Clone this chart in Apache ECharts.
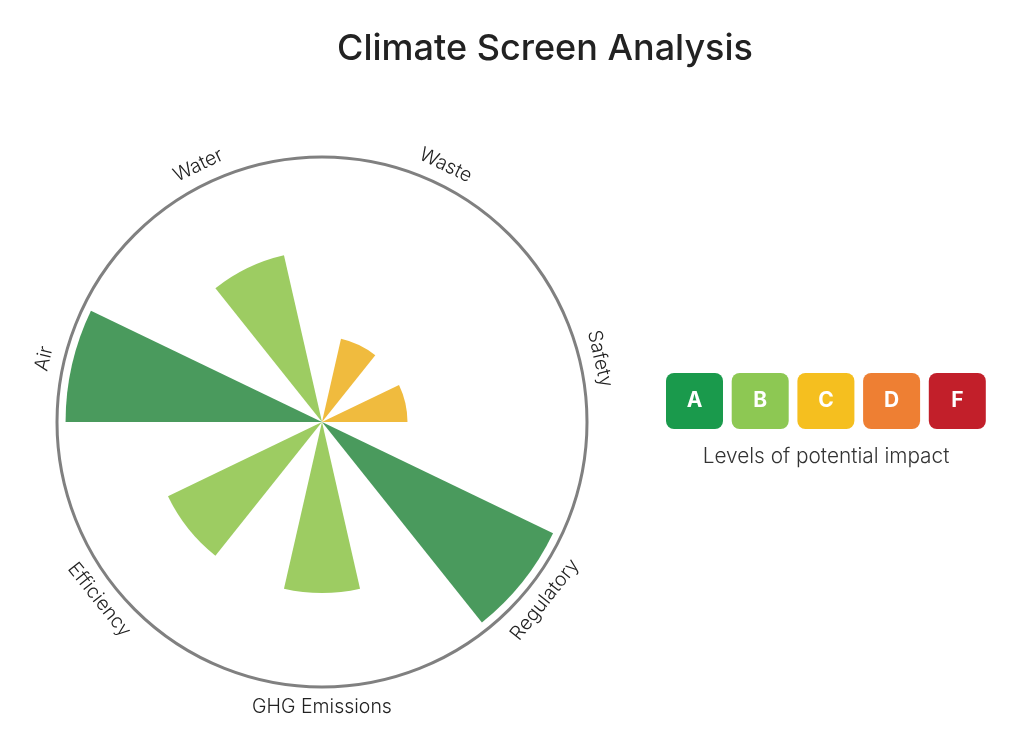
<!DOCTYPE html>
<html>
<head>
<meta charset="utf-8">
<script src="https://cdn.jsdelivr.net/npm/echarts@6/dist/echarts.min.js"></script>
<style>
html,body{margin:0;padding:0;background:#fff;}
#main{width:1022px;height:744px;}
</style>
</head>
<body>
<div id="main"></div>
<script>
// ---- data ----
var categories = ['Water', 'Waste', 'Safety', 'Regulatory', 'GHG Emissions', 'Efficiency', 'Air'];
var values = [2, 1, 1, 3, 2, 2, 3];
var levels = ['B', 'C', 'C', 'A', 'B', 'B', 'A'];
var legendLabels = ['A', 'B', 'C', 'D', 'F'];
var legendTitle = 'Levels of potential impact';

// ---- styles ----
var barColors = { A: '#4a9a5d', B: '#9dcc62', C: '#f0bb3e' };
var legendColors = ['#1a9a4c', '#8dc853', '#f5bf1f', '#ee7f33', '#c21f2a'];
var FONT = 'Inter, "Open Sans", sans-serif';
var C = [322, 422];
var R = 265;
var step = 360 / categories.length;

var chart = echarts.init(document.getElementById('main'));

var legendGraphics = legendLabels.map(function (l, i) {
  return {
    type: 'group',
    left: 666 + i * 65.7,
    top: 373,
    children: [
      { type: 'rect', shape: { x: 0, y: 0, width: 57, height: 56, r: 8 }, style: { fill: legendColors[i] } },
      { type: 'text', x: 28.5, y: 28, style: { text: l, fill: '#fff', font: 'bold 21px ' + FONT, align: 'center', verticalAlign: 'middle' } }
    ]
  };
});
legendGraphics.push({
  type: 'text', x: 826, y: 457,
  style: { text: legendTitle, fill: '#333', font: '300 20.8px ' + FONT, align: 'center', verticalAlign: 'middle' }
});

chart.setOption({
  backgroundColor: '#fff',
  animation: false,
  title: {
    text: 'Climate Screen Analysis',
    left: 540, top: 26, textAlign: 'center',
    textStyle: { fontFamily: FONT, fontSize: 36, fontWeight: 500, color: '#222' }
  },
  polar: { center: C, radius: R },
  angleAxis: {
    type: 'category',
    data: categories,
    startAngle: 90 + step,
    clockwise: true,
    axisLine: { show: true, lineStyle: { color: '#808080', width: 3 } },
    axisTick: { show: false },
    axisLabel: { show: false },
    splitLine: { show: false }
  },
  radiusAxis: {
    type: 'value', min: 0, max: 3.1,
    axisLine: { show: false }, axisTick: { show: false },
    axisLabel: { show: false }, splitLine: { show: false }
  },
  series: [
    {
      type: 'bar',
      coordinateSystem: 'polar',
      barCategoryGap: '50%',
      data: values.map(function (v, i) {
        return { value: v, itemStyle: { color: barColors[levels[i]] } };
      })
    },
    {
      type: 'pie',
      center: C,
      radius: [R + 2, R + 32],
      startAngle: 90 + step,
      clockwise: true,
      silent: true,
      z: 1,
      itemStyle: { color: 'rgba(0,0,0,0)' },
      label: {
        show: true, position: 'inside', rotate: 'tangential',
        formatter: '{b}', color: '#222', fontFamily: FONT, fontSize: 19.5, fontWeight: 300
      },
      labelLine: { show: false },
      data: categories.map(function (c) { return { name: c, value: 1 }; })
    }
  ],
  graphic: legendGraphics
});
</script>
</body>
</html>
